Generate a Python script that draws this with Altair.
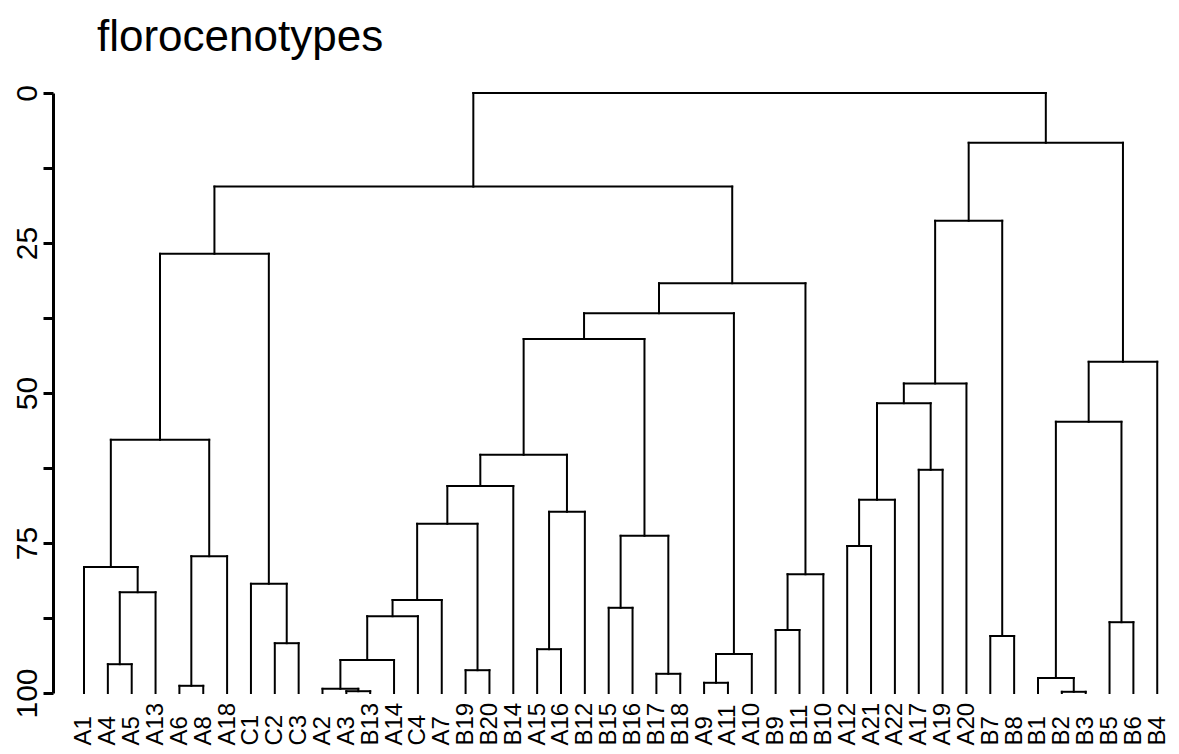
import altair as alt
import pandas as pd

# leaf order along the bottom
leaves = ["A1", "A4", "A5", "A13", "A6", "A8", "A18", "C1", "C2", "C3",
          "A2", "A3", "B13", "A14", "C4", "A7", "B19", "B20", "B14", "A15",
          "A16", "B12", "B15", "B16", "B17", "B18", "A9", "A11", "A10", "B9",
          "B11", "B10", "A12", "A21", "A22", "A17", "A19", "A20", "B7", "B8",
          "B1", "B2", "B3", "B5", "B6", "B4"]

# merges (like hclust's merge matrix): left member, right member, height
merge_left = ["A3", "A2", "A6", "A9", "B2", "B1", "B17", "B19", "A4", "m2",
              "m4", "A15", "C2", "B7", "B9", "B5", "m10", "B15", "m17", "m9",
              "C1", "m15", "A1", "m3", "A12", "m18", "m19", "m12", "m25", "m27",
              "A17", "m30", "m23", "m6", "m29", "m35", "m34", "m32", "m38", "m39",
              "m33", "m36", "m41", "m42", "m43"]
merge_right = ["B13", "m1", "A8", "A11", "B3", "m5", "B18", "B20", "A5", "A14",
               "A10", "A16", "C3", "B8", "B11", "B6", "C4", "B16", "A7", "A13",
               "m13", "B10", "m20", "A18", "A21", "m7", "m8", "B12", "A22", "B14",
               "A19", "m28", "m24", "m16", "m31", "A20", "B4", "m26", "m11", "m22",
               "m21", "m14", "m40", "m37", "m44"]
merge_height = [99.7, 99.3, 98.8, 98.3, 99.8, 97.5, 96.8, 96.2, 95.2, 94.5,
                93.5, 92.7, 91.7, 90.5, 89.5, 88.2, 87.2, 85.8, 84.5, 83.2,
                81.8, 80.2, 79.0, 77.2, 75.5, 73.8, 71.8, 69.8, 67.8, 65.5,
                62.8, 60.3, 57.8, 54.8, 51.7, 48.4, 44.8, 41.0, 36.7, 31.7,
                26.8, 21.3, 15.6, 8.3, 0.0]
leaf_height = 100
y_ticks = [0, 12.5, 25, 37.5, 50, 62.5, 75, 87.5, 100]
title_text = "florocenotypes"

# build dendrogram segments from the tree
pos = {name: i + 1 for i, name in enumerate(leaves)}
hgt = {name: leaf_height for name in leaves}
segs = []
for k, (l, r, h) in enumerate(zip(merge_left, merge_right, merge_height), start=1):
    xl, xr = pos[l], pos[r]
    segs.append(dict(x=xl, x2=xr, y=h, y2=h))
    segs.append(dict(x=xl, x2=xl, y=h, y2=hgt[l]))
    segs.append(dict(x=xr, x2=xr, y=h, y2=hgt[r]))
    pos[f"m{k}"] = (xl + xr) / 2
    hgt[f"m{k}"] = h
df = pd.DataFrame(segs)

label_expr = "[" + ",".join(f"'{n}'" for n in leaves) + "][datum.value - 1]"
FONT = "Liberation Sans"

chart = alt.Chart(df).mark_rule(color="black", strokeWidth=2, strokeCap="square").encode(
    x=alt.X("x:Q",
            scale=alt.Scale(domain=[-0.2998, 46.577], nice=False, zero=False),
            axis=alt.Axis(values=list(range(1, len(leaves) + 1)), labelExpr=label_expr,
                          title=None, domain=False, ticks=False, tickSize=0, grid=False,
                          labelAngle=270, labelAlign="left", labelBaseline="middle",
                          labelFontSize=24, labelFont=FONT, labelColor="black",
                          labelPadding=52, labelOffset=0, labelOverlap=False,
                          labelFlush=False, labelBound=False)),
    x2="x2:Q",
    y=alt.Y("y:Q",
            scale=alt.Scale(domain=[0, 100], reverse=True, nice=False, zero=False),
            axis=alt.Axis(values=y_ticks,
                          labelExpr="datum.value % 25 == 0 ? datum.label : ''",
                          title=None, grid=False, domainColor="black", domainWidth=3,
                          tickColor="black", tickWidth=3, tickSize=10,
                          labelAngle=270, labelAlign="center", labelBaseline="alphabetic",
                          labelFontSize=30, labelFont=FONT, labelColor="black",
                          labelPadding=7, labelOverlap=False, labelFlush=False,
                          labelBound=False)),
    y2="y2:Q",
).properties(
    width=1118,
    height=600,
    title=alt.TitleParams(text=title_text, anchor="start", frame="group", dx=44,
                          fontSize=44, font=FONT, fontWeight="normal", color="black",
                          offset=25),
    autosize=alt.AutoSizeParams(type="none"),
    padding={"left": 45, "top": 85, "right": 0, "bottom": 53},
    background="white",
).configure_view(stroke=None)

chart.save("out.html", embed_options={"renderer": "svg", "actions": False})
